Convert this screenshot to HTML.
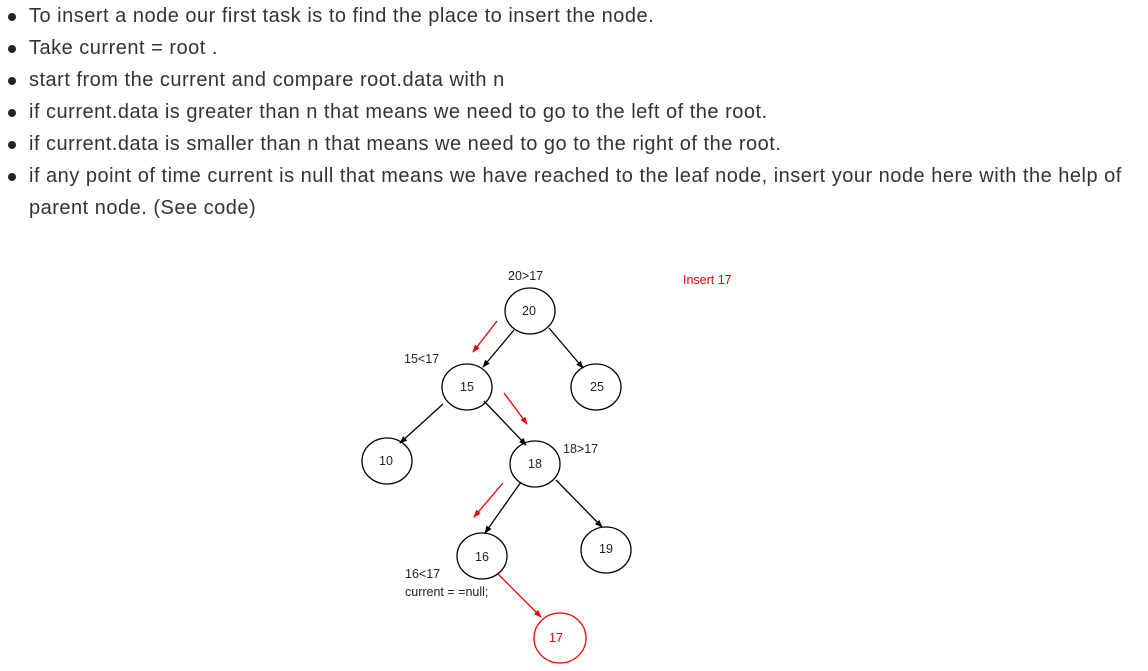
<!DOCTYPE html>
<html><head><style>
body{margin:0;background:#fff;width:1148px;height:671px;overflow:hidden;font-family:"Liberation Sans",sans-serif;color:#333;}
ul{margin:0;padding:0;list-style:none;position:absolute;left:0;top:0;}
li{position:relative;padding-left:29px;font-size:20px;letter-spacing:0.5px;line-height:32px;width:1108px;}
li:before{content:"";position:absolute;left:8px;top:13px;width:8px;height:8px;border-radius:50%;background:#222;}
svg{position:absolute;left:0;top:0;}
</style></head><body>
<ul>
<li>To insert a node our first task is to find the place to insert the node.</li>
<li>Take current = root .</li>
<li>start from the current and compare root.data with n</li>
<li>if current.data is greater than n that means we need to go to the left of the root.</li>
<li>if current.data is smaller than n that means we need to go to the right of the root.</li>
<li>if any point of time current is null that means we have reached to the leaf node, insert your node here with the help of parent node. (See code)</li>
</ul>
<svg width="1148" height="671" font-family="Liberation Sans, sans-serif" font-size="12.5">
<defs>
<marker id="a" markerWidth="8" markerHeight="8" refX="7" refY="4" orient="auto" markerUnits="userSpaceOnUse"><path d="M0,1 L8,4 L0,7z" fill="#000"/></marker>
<marker id="r" markerWidth="8" markerHeight="8" refX="7" refY="4" orient="auto" markerUnits="userSpaceOnUse"><path d="M0,1 L8,4 L0,7z" fill="#e00"/></marker>
</defs>
<g stroke="#000" stroke-width="1.3" fill="none">
<ellipse cx="530" cy="311" rx="25" ry="23"/>
<ellipse cx="467" cy="387" rx="25" ry="23"/>
<ellipse cx="596" cy="387" rx="25" ry="23"/>
<ellipse cx="387" cy="461" rx="25" ry="23"/>
<ellipse cx="535" cy="464" rx="25" ry="23"/>
<ellipse cx="482" cy="556" rx="25" ry="23"/>
<ellipse cx="606" cy="550" rx="25" ry="23"/>
<line x1="514" y1="330" x2="483" y2="367" marker-end="url(#a)"/>
<line x1="549" y1="328" x2="583" y2="368" marker-end="url(#a)"/>
<line x1="443" y1="404" x2="400" y2="443" marker-end="url(#a)"/>
<line x1="484" y1="401" x2="526" y2="445" marker-end="url(#a)"/>
<line x1="521" y1="482" x2="485" y2="533" marker-end="url(#a)"/>
<line x1="556" y1="480" x2="602" y2="527" marker-end="url(#a)"/>
</g>
<ellipse cx="560" cy="638" rx="26" ry="25" stroke="#e00" stroke-width="1.3" fill="none"/>
<g stroke="#e00" stroke-width="1.3">
<line x1="497" y1="321" x2="473" y2="352" marker-end="url(#r)"/>
<line x1="504" y1="393" x2="527" y2="424" marker-end="url(#r)"/>
<line x1="503" y1="483" x2="474" y2="517" marker-end="url(#r)"/>
<line x1="497" y1="573" x2="541" y2="617" marker-end="url(#r)"/>
</g>
<g fill="#222" text-anchor="middle">
<text x="529" y="315">20</text>
<text x="467" y="391">15</text>
<text x="597" y="391">25</text>
<text x="386" y="465">10</text>
<text x="535" y="468">18</text>
<text x="482" y="561">16</text>
<text x="606" y="553">19</text>
<text x="556" y="642" fill="#e00">17</text>
</g>
<g fill="#222">
<text x="508" y="280">20&gt;17</text>
<text x="404" y="363">15&lt;17</text>
<text x="563" y="453">18&gt;17</text>
<text x="405" y="578">16&lt;17</text>
<text x="405" y="596">current = =null;</text>
<text x="683" y="284" fill="#e00">Insert 17</text>
</g>
</svg>
</body></html>
